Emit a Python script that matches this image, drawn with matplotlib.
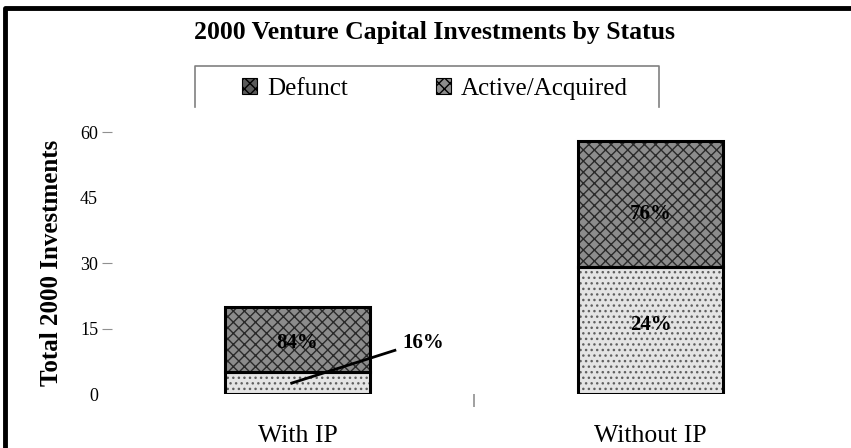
import matplotlib.pyplot as plt
from matplotlib.lines import Line2D
from matplotlib.ticker import FixedLocator

plt.rcParams['font.family'] = ['Liberation Serif', 'DejaVu Serif']

# data
categories = ["With IP", "Without IP"]
defunct = [5, 29]
active = [15, 29]
pct_defunct = ["16%", "24%"]
pct_active = ["84%", "76%"]
yticks = [0, 15, 30, 45, 60]

W, H = 851, 448
fig = plt.figure(figsize=(W / 100, H / 100), dpi=100)

# axes placed in pixel terms of the reference
left_px, right_px, bottom_px, top_px = 112, 836, 394, 132
ax = fig.add_axes([left_px / W, (H - bottom_px) / H,
                   (right_px - left_px) / W, (bottom_px - top_px) / H])

x = range(len(categories))
bw = 0.41

# textured fills, then outline on top
ax.bar(x, defunct, bw, color='#e4e4e4', hatch='...', edgecolor='#606060', linewidth=0)
ax.bar(x, active, bw, bottom=defunct, color='#8c8c8c', hatch='xxx', edgecolor='#2a2a2a', linewidth=0)
ax.bar(x, defunct, bw, fill=False, edgecolor='black', linewidth=2.2)
ax.bar(x, active, bw, bottom=defunct, fill=False, edgecolor='black', linewidth=2.2)

ax.set_xlim(-0.525, 1.525)
ax.set_ylim(0, 60)
for s in ax.spines.values():
    s.set_visible(False)

ax.set_yticks(yticks)
ax.set_yticklabels([str(t) for t in yticks], fontsize=13)
ax.tick_params(axis='y', length=7, width=0.8, color='#909090', pad=3)
# reference shows tick marks only at some labels
for t, tl in zip(yticks, ax.yaxis.get_major_ticks()):
    if t in (0, 45):
        tl.tick1line.set_visible(False)

ax.set_xticks(list(x))
ax.set_xticklabels(categories, fontsize=18.5)
ax.tick_params(axis='x', length=0, pad=22)
ax.xaxis.set_minor_locator(FixedLocator([0.5]))
ax.tick_params(axis='x', which='minor', length=9, width=1.2, color='#909090')

ax.set_ylabel("Total 2000 Investments", fontsize=18, fontweight='bold', labelpad=12)

# percentage labels
ax.text(0, 11.6, pct_active[0], ha='center', va='center', fontsize=15, fontweight='bold')
ax.text(0.356, 11.6, pct_defunct[0], ha='center', va='center', fontsize=15, fontweight='bold')
ax.plot([-0.016, 0.276], [2.5, 10], color='black', linewidth=2)
ax.text(1, 41.3, pct_active[1], ha='center', va='center', fontsize=15, fontweight='bold')
ax.text(1, 15.7, pct_defunct[1], ha='center', va='center', fontsize=15, fontweight='bold')

fig.text(435 / W, 1 - 32 / H, "2000 Venture Capital Investments by Status",
         ha='center', va='center', fontsize=18.5, fontweight='bold')

# legend with open bottom box
leg_h1 = plt.Rectangle((0, 0), 1, 1, facecolor='#5a5a5a', hatch='xxx', edgecolor='black', linewidth=0.8)
leg_h2 = plt.Rectangle((0, 0), 1, 1, facecolor='#8c8c8c', hatch='xxx', edgecolor='black', linewidth=0.8)
fig.legend([leg_h1, leg_h2], ["Defunct", "Active/Acquired"], loc='center',
           bbox_to_anchor=(435 / W, 1 - 89 / H), ncol=2, frameon=False, fontsize=18,
           handlelength=0.6, handleheight=0.6, handletextpad=0.4, columnspacing=3.5)
lx0, lx1, ly0, ly1 = 195 / W, 659 / W, 1 - 107 / H, 1 - 66 / H
fig.add_artist(Line2D([lx0, lx0, lx1, lx1], [ly0, ly1, ly1, ly0], color='#808080', linewidth=1.2))

# outer frame (top and left only)
fig.add_artist(Line2D([5 / W, 5 / W, 1], [0, 1 - 8 / H, 1 - 8 / H], color='black', linewidth=3.5))

fig.savefig('out.png', dpi=100)
